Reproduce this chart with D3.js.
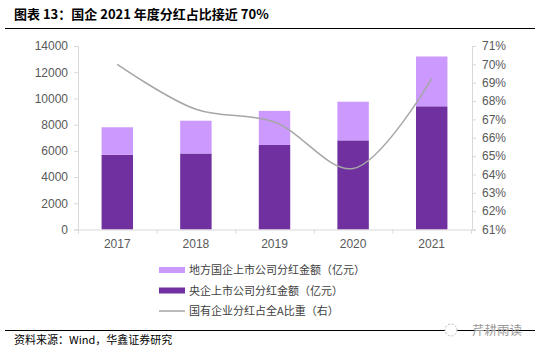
<!DOCTYPE html>
<html><head><meta charset="utf-8">
<script src="https://cdn.jsdelivr.net/npm/d3@7"></script>
<style>body{margin:0;background:#fff}svg{display:block}</style>
</head><body>
<svg id="c" width="539" height="355"></svg>
<script>
const categories = ["2017","2018","2019","2020","2021"];
const centralValues = [5700, 5800, 6450, 6800, 9400];
const localValues = [2100, 2500, 2600, 2950, 3800];
const shareValues = [0.700, 0.6755, 0.6686, 0.6432, 0.6922];
const leftTicks = [0,2000,4000,6000,8000,10000,12000,14000];
const rightTicks = [0.61,0.62,0.63,0.64,0.65,0.66,0.67,0.68,0.69,0.70,0.71];
const legendLabels = ["地方国企上市公司分红金额（亿元）","央企上市公司分红金额（亿元）","国有企业分红占全A比重（右）"];

const svg = d3.select("#c");
const cLight = "#cc99ff", cDark = "#7030a0", cLine = "#a6a6a6", axisC = "#d9d9d9", txt = "#595959";
const font = "'Liberation Sans', Arial, sans-serif";
const cjk = "'Noto Sans CJK SC', sans-serif";

// title
svg.append("text").attr("x", 14).attr("y", 19).attr("font-family", cjk).attr("font-weight", "bold")
  .attr("font-size", 13).attr("fill", "#000").text("图表 13：国企 2021 年度分红占比接近 70%");
svg.append("line").attr("x1", 5).attr("x2", 535).attr("y1", 28.5).attr("y2", 28.5).attr("stroke", "#000").attr("stroke-width", 1);

const x = d3.scaleBand().domain(categories).range([78, 471]).paddingInner(0.6).paddingOuter(0.3);
const y = d3.scaleLinear().domain([0, 14000]).range([229.5, 46]);
const yr = d3.scaleLinear().domain([0.61, 0.71]).range([229.5, 46]);

// bars
const g = svg.append("g");
categories.forEach((c, i) => {
  g.append("rect").attr("x", x(c)).attr("width", x.bandwidth())
    .attr("y", y(centralValues[i])).attr("height", y(0) - y(centralValues[i])).attr("fill", cDark);
  g.append("rect").attr("x", x(c)).attr("width", x.bandwidth())
    .attr("y", y(centralValues[i] + localValues[i])).attr("height", y(centralValues[i]) - y(centralValues[i] + localValues[i])).attr("fill", cLight);
});

// left axis
const la = svg.append("g").attr("transform", "translate(78,0)")
  .call(d3.axisLeft(y).tickValues(leftTicks).tickSize(4).tickPadding(6).tickFormat(d3.format("d")));
// right axis
const ra = svg.append("g").attr("transform", "translate(472,0)")
  .call(d3.axisRight(yr).tickValues(rightTicks).tickSize(4).tickPadding(6).tickFormat(d3.format(".0%")));
// bottom axis
const xb = d3.scaleLinear().domain([0, 5]).range([78, 471]);
const ba = svg.append("g").attr("transform", "translate(0,229.5)")
  .call(d3.axisBottom(xb).tickValues([0,1,2,3,4,5]).tickSize(4).tickFormat(""));
[la, ra, ba].forEach(a => {
  a.selectAll("path,line").attr("stroke", axisC);
  a.selectAll("text").attr("font-family", font).attr("font-size", 12).attr("fill", txt);
});
svg.append("g").selectAll("text").data(categories).join("text")
  .attr("x", d => x(d) + x.bandwidth() / 2).attr("y", 248).attr("text-anchor", "middle")
  .attr("font-family", font).attr("font-size", 12).attr("fill", txt).text(d => d);

// line
const line = d3.line().x((d, i) => x(categories[i]) + x.bandwidth() / 2).y(d => yr(d)).curve(d3.curveCatmullRom.alpha(0.5));
svg.append("path").attr("d", line(shareValues)).attr("fill", "none").attr("stroke", cLine).attr("stroke-width", 1.5);

// legend
const lg = svg.append("g");
const ly = [270, 290.5, 311];
lg.append("rect").attr("x", 159).attr("y", ly[0] - 3).attr("width", 26).attr("height", 6).attr("fill", cLight);
lg.append("rect").attr("x", 159).attr("y", ly[1] - 3).attr("width", 26).attr("height", 6).attr("fill", cDark);
lg.append("line").attr("x1", 159).attr("x2", 185).attr("y1", ly[2]).attr("y2", ly[2]).attr("stroke", cLine).attr("stroke-width", 1.5);
legendLabels.forEach((t, i) => {
  lg.append("text").attr("x", 189).attr("y", ly[i] + 4).attr("font-family", cjk).attr("font-size", 11)
    .attr("fill", "#404040").text(t);
});

// footer
svg.append("line").attr("x1", 5).attr("x2", 535).attr("y1", 330.5).attr("y2", 330.5).attr("stroke", "#000").attr("stroke-width", 1);
svg.append("text").attr("x", 14).attr("y", 344).attr("font-family", cjk).attr("font-size", 11).attr("fill", "#000")
  .text("资料来源：Wind，华鑫证券研究");
svg.append("circle").attr("cx", 451).attr("cy", 330).attr("r", 6).attr("fill", "#fff").attr("stroke", "#bbb").attr("stroke-dasharray", "2,1.5");
svg.append("text").attr("x", 472).attr("y", 335).attr("font-family", cjk).attr("font-size", 12.5).attr("fill", "#999").text("芹耕雨读");
</script>
</body></html>
